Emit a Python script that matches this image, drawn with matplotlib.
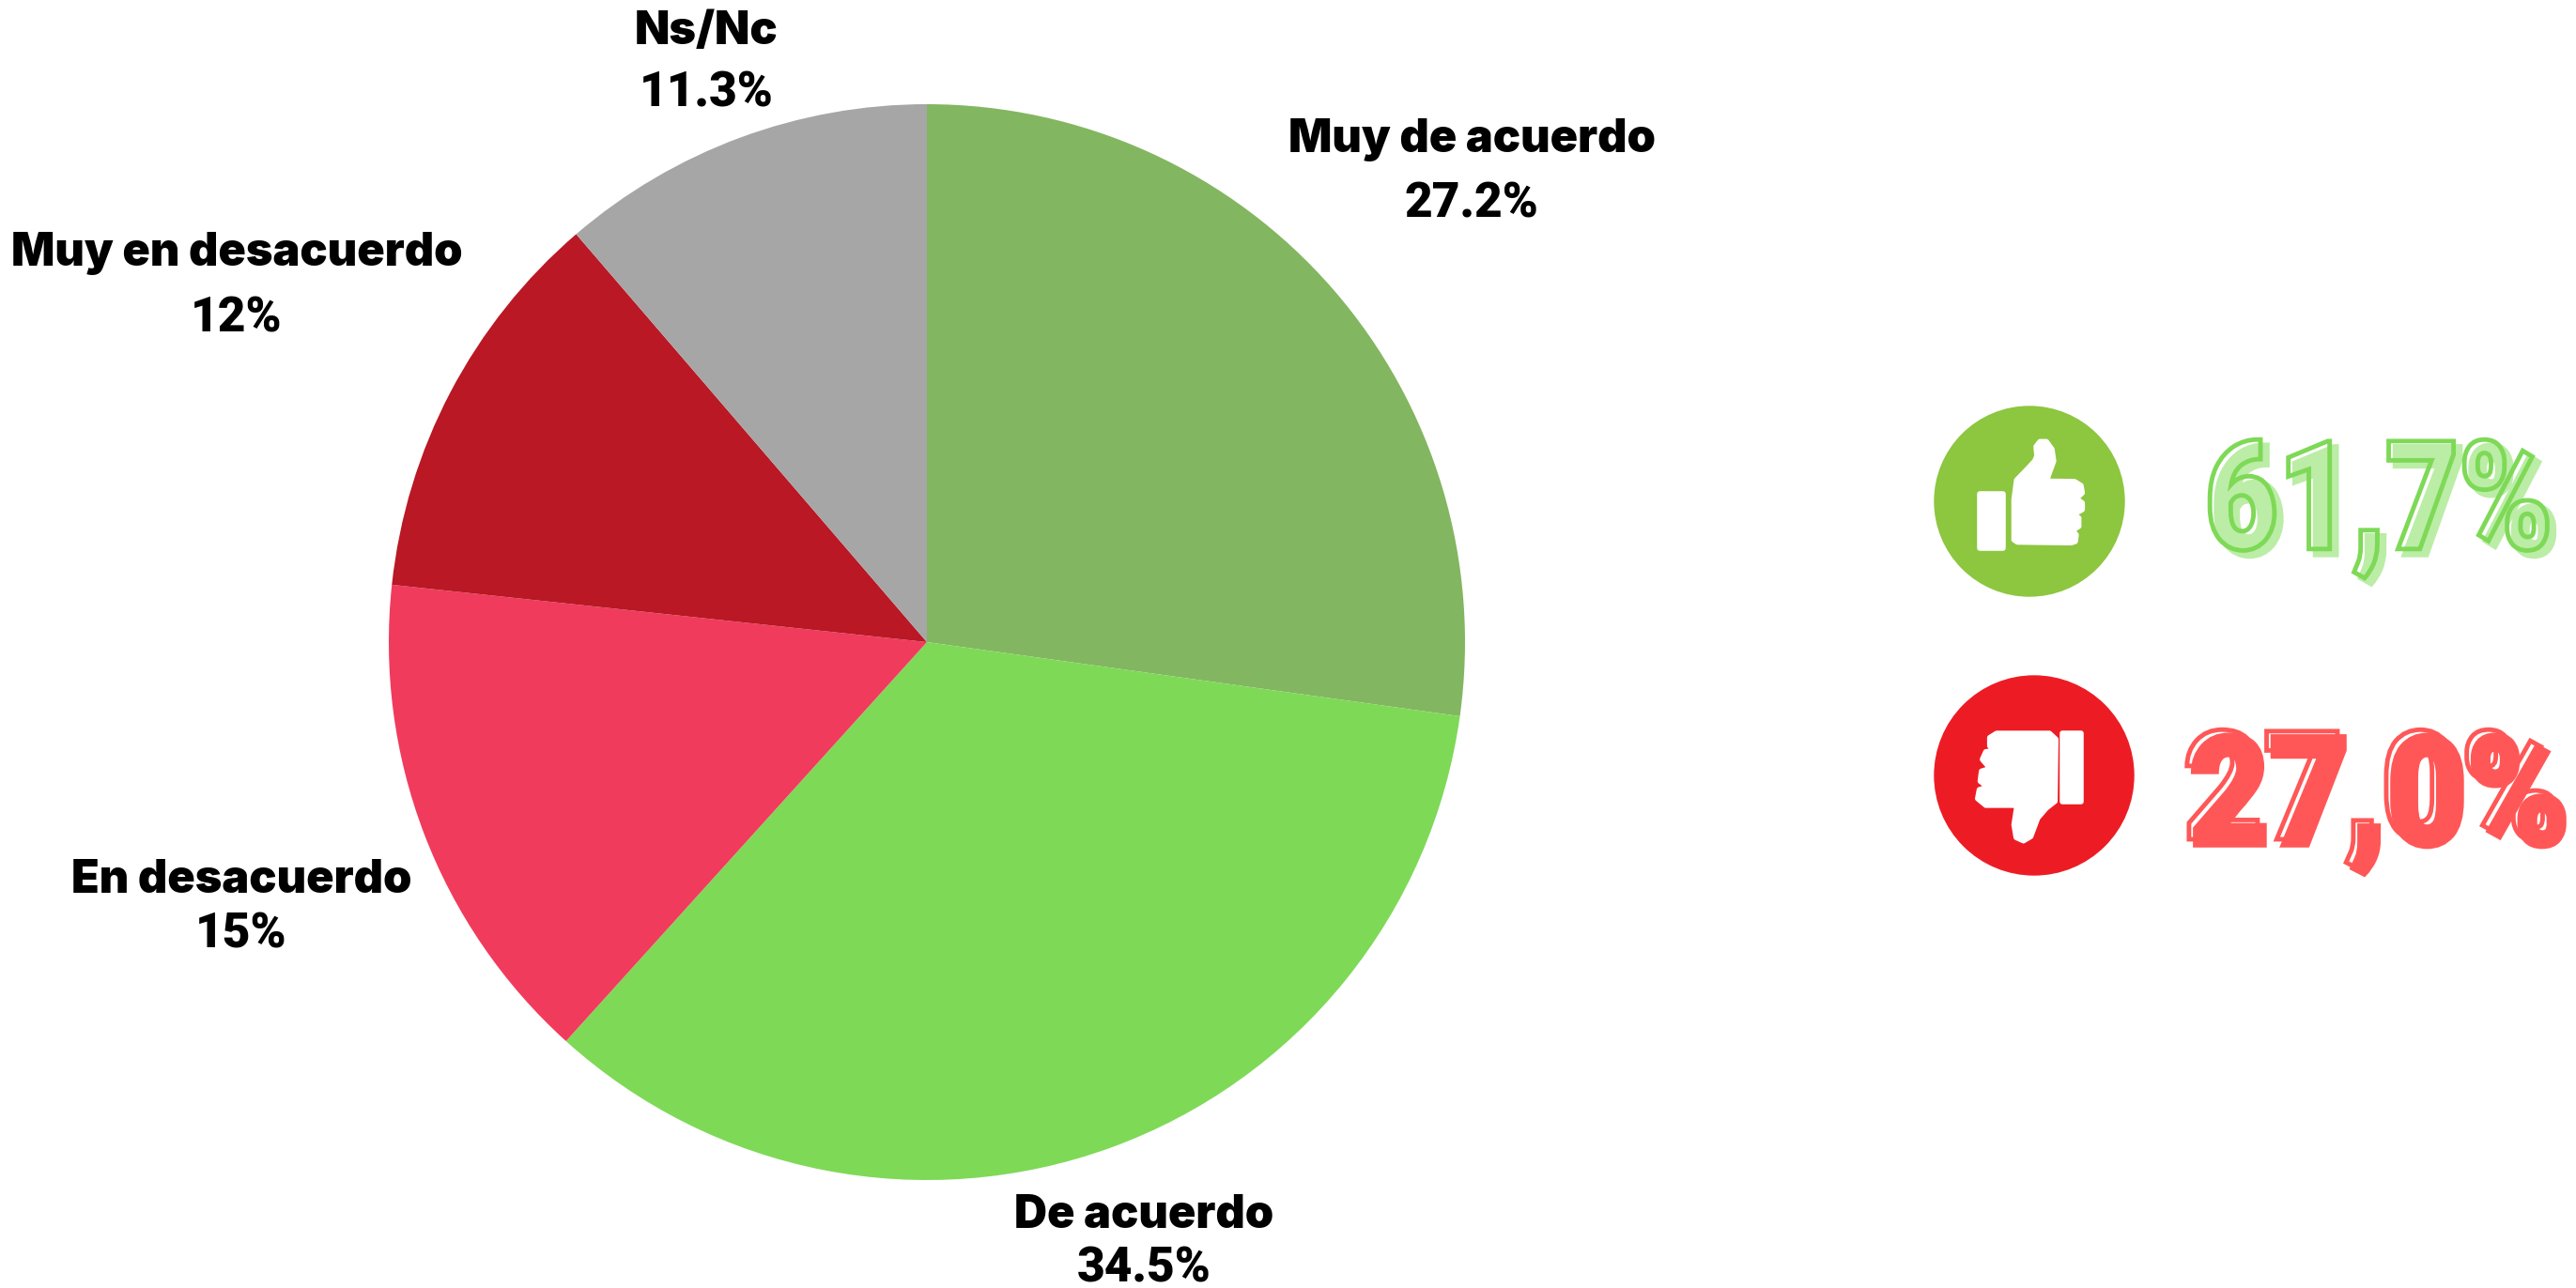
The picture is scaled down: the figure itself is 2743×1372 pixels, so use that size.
from matplotlib import pyplot as plt
from matplotlib import patheffects as pe
from matplotlib.patches import Circle, Polygon
from matplotlib.transforms import Affine2D

categories = ['Muy de acuerdo', 'De acuerdo', 'En desacuerdo', 'Muy en desacuerdo', 'Ns/Nc']
values = [27.2, 34.5, 15, 12, 11.3]
value_labels = ['27.2%', '34.5%', '15%', '12%', '11.3%']
colors = ['#83B660', '#7ED957', '#F03B5D', '#B91824', '#A6A6A6']

total_up = '61,7%'
total_down = '27,0%'

W, H = 2743, 1372


class Tall(pe.AbstractPathEffect):
    # la letra original es mas alta y estrecha que Roboto, se estira en y
    def __init__(self, cy, sy, lw=0, line=None, outline=False):
        super().__init__()
        self.cy = cy
        self.sy = sy
        self.lw = lw
        self.line = line
        self.outline = outline

    def draw_path(self, renderer, gc, tpath, affine, rgbFace=None):
        t = affine + Affine2D().translate(0, -self.cy).scale(1, self.sy).translate(0, self.cy)
        gc0 = renderer.new_gc()
        gc0.copy_properties(gc)
        gc0.set_foreground(self.line)
        gc0.set_linewidth(self.lw)
        gc0.set_joinstyle('miter')
        renderer.draw_path(gc0, tpath, t, None if self.outline else rgbFace)
        gc0.restore()


def y_(y):
    return H - y


def zoom_pt(p):
    return (2020 + p[0] / 2.169, y_(400 + p[1] / 2.8))


def draw_shape(ax, pts):
    ax.add_patch(Polygon([zoom_pt(p) for p in pts], closed=True, fc='white', ec='white',
                         lw=4, joinstyle='round', zorder=4))


def big_text(ax, x, y, s, fill, line, size, sy):
    ax.text(x + 7, y_(y + 6), s, fontsize=size, family='Roboto', weight=900, color=fill,
            ha='center', va='center', zorder=5, path_effects=[Tall(y_(y + 6), sy, 4, fill)])
    ax.text(x, y_(y), s, fontsize=size, family='Roboto', weight=900, color=line,
            ha='center', va='center', zorder=6, path_effects=[Tall(y_(y), sy, 3.5, line, True)])


fig = plt.figure(figsize=(W / 100, H / 100), dpi=100)
ax = fig.add_axes([0, 0, 1, 1])
ax.pie(values, colors=colors, startangle=90, counterclock=False, center=(987, y_(684)),
       radius=573, frame=True)
ax.set_xlim(0, W)
ax.set_ylim(0, H)
ax.axis('off')

label_pos = [(1567, 149, 217), (1218, 1295, 1352), (257, 938, 995), (252, 270, 339), (752, 34, 99)]
for name, val, (x, y1, y2) in zip(categories, value_labels, label_pos):
    ax.text(x, y_(y1), name, fontsize=35, family='Inter', weight=900, color='black',
            ha='center', va='center')
    ax.text(x, y_(y2), val, fontsize=37, family='Roboto', weight=900, color='black',
            ha='center', va='center')

ax.add_patch(Circle((2161, y_(534)), 101, color='#8DC63F', zorder=3))
ax.add_patch(Circle((2166, y_(826)), 106, color='#ED1C24', zorder=3))

# pulgar arriba
draw_shape(ax, [(191, 354), (246, 354), (246, 516), (191, 516)])
draw_shape(ax, [(270, 490), (270, 370), (276, 312), (300, 280), (318, 255), (323, 240), (321, 212),
                (330, 197), (345, 197), (358, 220), (362, 255), (345, 315), (410, 316), (425, 328),
                (428, 350), (414, 367), (428, 380), (428, 400), (408, 414), (420, 425), (420, 450),
                (405, 462), (414, 475), (412, 495), (402, 499), (278, 497)])
# pulgar abajo
draw_shape(ax, [(382, 1066), (426, 1066), (426, 1271), (382, 1271)])
draw_shape(ax, [(367, 1085), (352, 1067), (230, 1067), (214, 1080), (214, 1105), (228, 1118),
                (205, 1122), (197, 1145), (215, 1172), (195, 1180), (192, 1210), (210, 1228),
                (190, 1235), (186, 1262), (205, 1282), (277, 1282), (270, 1340), (275, 1378),
                (292, 1388), (309, 1375), (325, 1320), (345, 1290), (365, 1270)])

big_text(ax, 2533, 541, total_up, '#BBEDA6', '#7ED957', 97, 1.2)
big_text(ax, 2527, 850, total_down, '#FF5757', '#FF5757', 106, 1.1)

fig.savefig('out.png', dpi=100)
